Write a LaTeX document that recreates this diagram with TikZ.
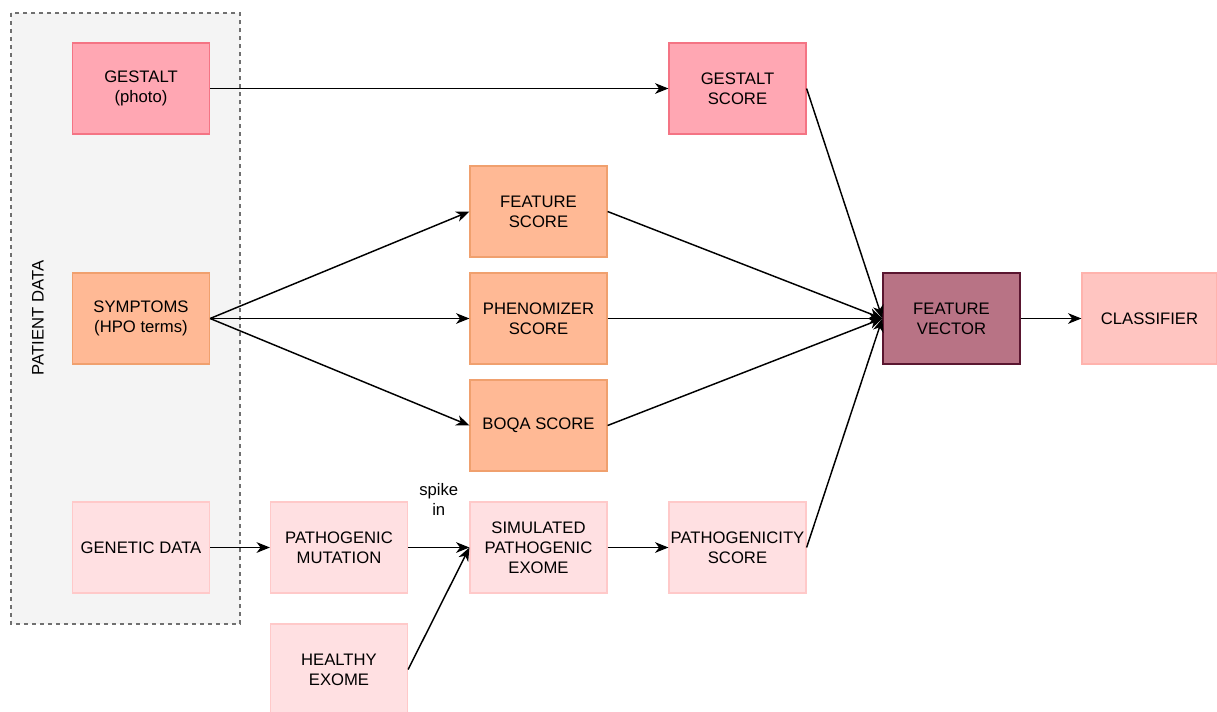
\documentclass[tikz,border=0pt]{standalone}
\usepackage{fontspec}
\setmainfont{Liberation Sans}
\usetikzlibrary{arrows.meta}
\definecolor{gfill}{HTML}{FFA7B3}
\definecolor{gdraw}{HTML}{F47484}
\definecolor{ofill}{HTML}{FFB995}
\definecolor{odraw}{HTML}{F0A06E}
\definecolor{pfill}{HTML}{FFE0E2}
\definecolor{pdraw}{HTML}{FFC9C9}
\definecolor{vfill}{HTML}{B87385}
\definecolor{vdraw}{HTML}{5A1630}
\definecolor{cfill}{HTML}{FFC5C1}
\definecolor{cdraw}{HTML}{FFB3AD}
\definecolor{contfill}{HTML}{F4F4F4}
\definecolor{contdraw}{HTML}{707070}
\tikzset{
  txt/.style={font=\fontsize{12.5}{15}\selectfont},
  box/.style={draw, line width=0.9pt, minimum width=102.75pt, minimum height=68.25pt,
    align=center, inner sep=1pt, txt},
  gbox/.style={box, fill=gfill, draw=gdraw},
  obox/.style={box, fill=ofill, draw=odraw},
  pbox/.style={box, fill=pfill, draw=pdraw},
  conn/.style={-{Stealth[length=10pt,width=8pt,inset=3pt]}, line width=1.1pt},
}
\begin{document}
\begin{tikzpicture}[x=0.75pt,y=-0.75pt]
\useasboundingbox (0,0) rectangle (1217,711);
\clip (0,0) rectangle (1217,711);
% container
\draw[fill=contfill, draw=contdraw, line width=0.9pt, dash pattern=on 3pt off 3pt] (11,13) rectangle (240,624);
\node[rotate=90, txt] (pd) at (38,318) {PATIENT DATA};
% nodes
\node[gbox] (gestalt) at (141,88.5) {GESTALT\\(photo)};
\node[gbox] (gscore) at (737.5,88.5) {GESTALT\\SCORE};
\node[obox] (sympt) at (141,318.5) {SYMPTOMS\\(HPO terms)};
\node[obox] (feat) at (538.5,211.5) {FEATURE\\SCORE};
\node[obox] (phen) at (538.5,318.5) {PHENOMIZER\\SCORE};
\node[obox] (boqa) at (538.5,425.5) {BOQA SCORE};
\node[box, fill=vfill, draw=vdraw] (fvec) at (951.5,318.5) {FEATURE\\VECTOR};
\node[box, fill=cfill, draw=cdraw, minimum width=101.25pt] (clf) at (1149.5,318.5) {CLASSIFIER};
\node[pbox] (gen) at (141,547.5) {GENETIC DATA};
\node[pbox] (pmut) at (339,547.5) {PATHOGENIC\\MUTATION};
\node[pbox] (sim) at (538.5,547.5) {SIMULATED\\PATHOGENIC\\EXOME};
\node[pbox] (pscore) at (737.5,547.5) {PATHOGENICITY\\SCORE};
\node[pbox] (healthy) at (339,669.5) {HEALTHY\\EXOME};
% edges
\draw[conn] (gestalt.east) -- (gscore.west);
\draw[conn] (sympt.east) -- (feat.west);
\draw[conn] (sympt.east) -- (phen.west);
\draw[conn] (sympt.east) -- (boqa.west);
\draw[conn] (gscore.east) -- (fvec.west);
\draw[conn] (feat.east) -- (fvec.west);
\draw[conn] (phen.east) -- (fvec.west);
\draw[conn] (boqa.east) -- (fvec.west);
\draw[conn] (pscore.east) -- (fvec.west);
\draw[conn] (fvec.east) -- (clf.west);
\draw[conn] (gen.east) -- (pmut.west);
\draw[conn] (pmut.east) -- node[above=20pt, align=center, txt] {spike\\in} (sim.west);
\draw[conn] (healthy.east) -- (sim.west);
\draw[conn] (sim.east) -- (pscore.west);
\end{tikzpicture}
\end{document}
